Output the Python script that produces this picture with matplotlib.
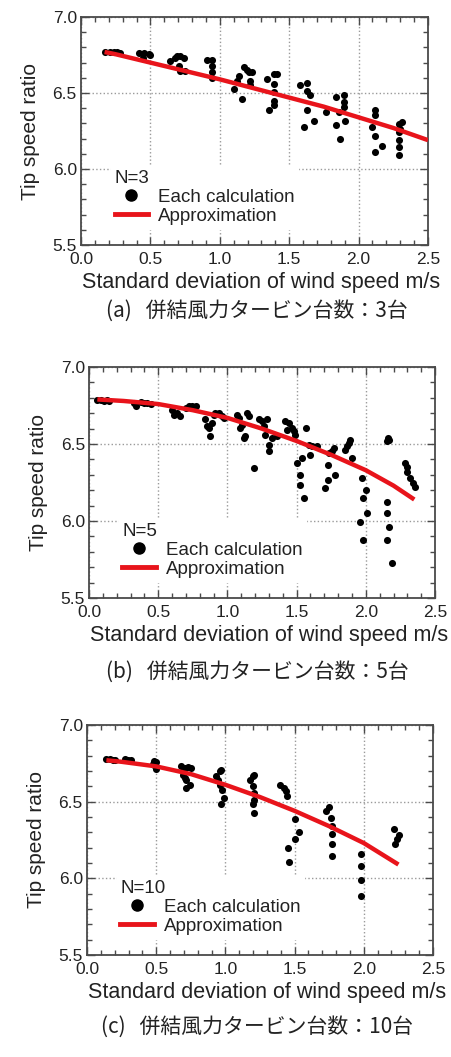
import numpy as np
import matplotlib
matplotlib.use("Agg")
import matplotlib.pyplot as plt
from matplotlib.lines import Line2D

plt.rcParams['font.family'] = ['Liberation Sans', 'DejaVu Sans']

# (a) N=3 : each calculation
x_a = [0.175, 0.211, 0.235, 0.26, 0.283,
       0.415, 0.451, 0.488, 0.447, 0.50,
       0.644, 0.68, 0.69, 0.716, 0.74, 0.704, 0.71, 0.752,
       0.908, 0.944, 0.944, 0.944, 0.944,
       1.10, 1.124, 1.136, 1.16, 1.172, 1.196, 1.208, 1.22, 1.232, 1.22,
       1.34, 1.352, 1.388, 1.388, 1.388, 1.388, 1.388, 1.412,
       1.575, 1.628, 1.628, 1.647, 1.628, 1.604, 1.676,
       1.765, 1.84, 1.856, 1.864, 1.892, 1.892, 1.892, 1.904, 1.84,
       2.097, 2.12, 2.12, 2.12, 2.12, 2.169,
       2.289, 2.289, 2.289, 2.289, 2.289, 2.30, 2.313]
y_a = [6.772, 6.772, 6.77, 6.768, 6.766,
       6.766, 6.761, 6.755, 6.733, 6.75,
       6.71, 6.73, 6.744, 6.744, 6.73, 6.68, 6.642, 6.646,
       6.72, 6.716, 6.68, 6.635, 6.60,
       6.527, 6.58, 6.614, 6.462, 6.668, 6.65, 6.635, 6.58, 6.635, 6.55,
       6.592, 6.386, 6.625, 6.56, 6.505, 6.45, 6.418, 6.625,
       6.555, 6.564, 6.516, 6.484, 6.386, 6.278, 6.317,
       6.373, 6.477, 6.375, 6.195, 6.49, 6.44, 6.408, 6.317, 6.29,
       6.278, 6.39, 6.354, 6.217, 6.115, 6.152,
       6.295, 6.245, 6.19, 6.147, 6.093, 6.266, 6.31]
# approximation curve
fit_x_a = [0.17, 0.25, 0.5, 0.75, 1.0, 1.25, 1.5, 1.75, 2.0, 2.25, 2.5]
fit_y_a = [6.77, 6.755, 6.70, 6.645, 6.59, 6.53, 6.47, 6.41, 6.34, 6.27, 6.19]

# (b) N=5
x_b = [0.06, 0.084, 0.108, 0.13, 0.144,
       0.325, 0.337, 0.373, 0.397, 0.42, 0.445,
       0.60, 0.613, 0.637, 0.66,
       0.697, 0.72, 0.745, 0.77,
       0.84, 0.853, 0.865, 0.877, 0.89, 0.90, 0.913, 0.937, 0.96, 0.973,
       1.07, 1.08, 1.094, 1.105, 1.118, 1.13, 1.142, 1.154, 1.19,
       1.226, 1.25, 1.262, 1.274, 1.298, 1.298, 1.322, 1.286, 1.358,
       1.418, 1.442, 1.466, 1.478, 1.49, 1.43,
       1.502, 1.526, 1.526, 1.538, 1.55, 1.567,
       1.587, 1.60, 1.61, 1.647,
       1.707, 1.726, 1.73, 1.736, 1.755, 1.767, 1.779,
       1.85, 1.863, 1.875, 1.887, 1.90,
       1.96, 1.97, 1.976, 1.983, 2.0, 2.007,
       2.15, 2.15, 2.15, 2.17, 2.19, 2.15, 2.163, 2.17,
       2.284, 2.296, 2.30, 2.32, 2.344, 2.356]
y_b = [6.785, 6.785, 6.78, 6.785, 6.78,
       6.767, 6.75, 6.774, 6.767, 6.77, 6.763,
       6.724, 6.69, 6.70, 6.68,
       6.735, 6.746, 6.746, 6.75,
       6.66, 6.615, 6.605, 6.55, 6.637, 6.69, 6.70, 6.70, 6.68, 6.67,
       6.69, 6.67, 6.605, 6.626, 6.54, 6.55, 6.70, 6.68, 6.343,
       6.66, 6.648, 6.615, 6.56, 6.496, 6.452, 6.54, 6.66, 6.55,
       6.648, 6.637, 6.604, 6.583, 6.56, 6.593,
       6.376, 6.30, 6.235, 6.41, 6.148, 6.604,
       6.496, 6.43, 6.485, 6.485,
       6.213, 6.267, 6.365, 6.44, 6.452, 6.474, 6.30,
       6.463, 6.485, 6.506, 6.528, 6.41,
       5.996, 6.278, 6.148, 5.876, 6.20, 6.05,
       6.126, 6.05, 5.876, 5.963, 5.73, 6.517, 6.54, 6.528,
       6.376, 6.354, 6.32, 6.278, 6.246, 6.224]
fit_x_b = [0.06, 0.25, 0.5, 0.75, 1.0, 1.25, 1.5, 1.75, 1.9, 2.0, 2.1, 2.2, 2.35]
fit_y_b = [6.79, 6.78, 6.76, 6.72, 6.67, 6.60, 6.52, 6.43, 6.37, 6.33, 6.28, 6.23, 6.14]

# (c) N=10
x_c = [0.14, 0.164, 0.188, 0.2,
       0.272, 0.296, 0.32,
       0.482, 0.496, 0.489, 0.50, 0.477,
       0.68, 0.706, 0.73, 0.754, 0.694, 0.706, 0.718, 0.713, 0.742,
       0.934, 0.946, 0.958, 0.97, 0.958, 0.978, 0.99, 0.97,
       1.175, 1.2, 1.21, 1.2, 1.21, 1.207, 1.2, 1.204,
       1.392, 1.42, 1.44, 1.447,
       1.452, 1.46, 1.5, 1.5, 1.532,
       1.73, 1.749, 1.76, 1.773, 1.773, 1.773, 1.773,
       1.977, 1.977, 1.982, 1.977,
       2.216, 2.223, 2.24, 2.254]
y_c = [6.778, 6.778, 6.773, 6.773,
       6.778, 6.773, 6.773,
       6.763, 6.756, 6.735, 6.713, 6.748,
       6.73, 6.72, 6.726, 6.72, 6.676, 6.655, 6.644, 6.59, 6.61,
       6.665, 6.644, 6.698, 6.709, 6.61, 6.579, 6.525, 6.482,
       6.644, 6.665, 6.676, 6.60, 6.557, 6.514, 6.482, 6.428,
       6.611, 6.59, 6.568, 6.54,
       6.201, 6.104, 6.385, 6.255, 6.303,
       6.439, 6.467, 6.396, 6.342, 6.288, 6.223, 6.147,
       6.158, 6.083, 5.992, 5.888,
       6.324, 6.223, 6.255, 6.283]
fit_x_c = [0.14, 0.25, 0.5, 0.75, 1.0, 1.25, 1.5, 1.75, 2.0, 2.25]
fit_y_c = [6.77, 6.76, 6.73, 6.68, 6.61, 6.53, 6.44, 6.34, 6.23, 6.09]

titles = ["N=3", "N=5", "N=10"]
captions = ["(a)   併結風力タービン台数：3台",
            "(b)   併結風力タービン台数：5台",
            "(c)   併結風力タービン台数：10台"]

red = "#e8141b"
spine_col = "#4a4a4a"
text_col = "#222222"


def draw_panel(ax, xs, ys, fx, fy, title):
    ax.scatter(xs, ys, s=26, color="black", zorder=3, linewidths=0)
    ax.plot(fx, fy, color=red, lw=3.2, zorder=4, solid_capstyle="butt",
            solid_joinstyle="round")
    ax.set_xlim(0, 2.5)
    ax.set_ylim(5.5, 7.0)
    ax.set_xticks(np.arange(0, 2.51, 0.5))
    ax.set_yticks(np.arange(5.5, 7.01, 0.5))
    ax.set_xticks(np.arange(0, 2.51, 0.1), minor=True)
    ax.set_yticks(np.arange(5.5, 7.01, 0.1), minor=True)
    ax.xaxis.set_major_formatter(plt.FormatStrFormatter("%.1f"))
    ax.yaxis.set_major_formatter(plt.FormatStrFormatter("%.1f"))
    ax.tick_params(which="both", direction="in", top=True, right=True,
                   colors=spine_col, labelcolor=text_col, labelsize=12.5)
    ax.tick_params(which="major", length=6, width=1.0)
    ax.tick_params(which="minor", length=3.5, width=1.0)
    ax.tick_params(axis="x", pad=5)
    ax.tick_params(axis="y", pad=3)
    for s in ax.spines.values():
        s.set_color(spine_col)
        s.set_linewidth(1.3)
    ax.grid(True, which="major", color="#9a9a9a", linestyle=":", lw=1.0)
    ax.set_axisbelow(True)
    ax.set_xlabel("Standard deviation of wind speed m/s", fontsize=15.5,
                  color=text_col)
    ax.xaxis.set_label_coords(0.52, -0.118, transform=ax.transAxes)
    ax.xaxis.label.set_va("top")
    ax.set_ylabel("Tip speed ratio", fontsize=15, color=text_col, labelpad=9)

    handles = [Line2D([], [], marker="o", color="black", ls="none", markersize=8),
               Line2D([], [], color=red, lw=3.5)]
    leg = ax.legend(handles, ["Each calculation", "Approximation"], title=title,
                    loc="lower left", bbox_to_anchor=(0.075, 0.055),
                    fontsize=13.5, title_fontsize=13.5, alignment="left",
                    frameon=True, framealpha=1, edgecolor="white",
                    fancybox=False, borderpad=0.2, labelspacing=0.1,
                    handlelength=1.8, handletextpad=0.5, borderaxespad=0.2)
    leg.set_zorder(5)
    plt.setp(leg.get_texts(), color=text_col)
    leg.get_title().set_color(text_col)


fig = plt.figure(figsize=(4.52, 10.57), dpi=100)

ax_a = fig.add_axes([0.1792, 0.7682, 0.7677, 0.2157])
ax_b = fig.add_axes([0.1970, 0.4342, 0.7655, 0.2185])
ax_c = fig.add_axes([0.1925, 0.0965, 0.7655, 0.2176])

draw_panel(ax_a, x_a, y_a, fit_x_a, fit_y_a, titles[0])
draw_panel(ax_b, x_b, y_b, fit_x_b, fit_y_b, titles[1])
draw_panel(ax_c, x_c, y_c, fit_x_c, fit_y_c, titles[2])

cap_y = [0.7058, 0.3642, 0.0284]
for cap, yy in zip(captions, cap_y):
    fig.text(0.569, yy, cap, ha="center", va="center", fontsize=15,
             color=text_col, family=["Noto Sans CJK JP", "DejaVu Sans"])

fig.savefig("out.png", dpi=100)
